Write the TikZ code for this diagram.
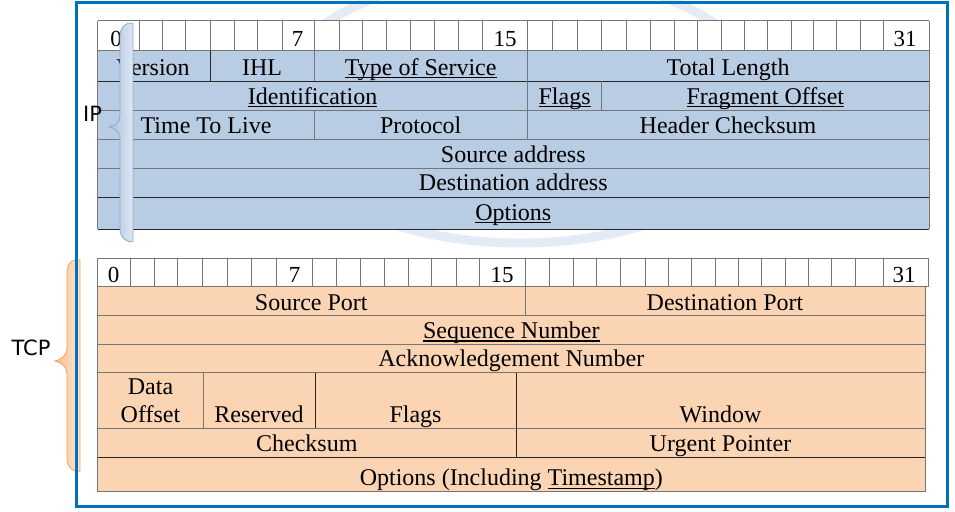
\documentclass[tikz,border=0pt]{standalone}
\usepackage{fontspec}
\setmainfont{Liberation Serif}
\newfontfamily\bracefont{DejaVu Sans}

% underline at a fixed depth below the baseline, crossing descenders
\newcommand\ulword[1]{\setbox0\hbox{#1}\rlap{\rule[-3.2pt]{\wd0}{1.1pt}}\box0}

\definecolor{ipfill}{HTML}{B8CCE4}
\definecolor{tcpfill}{HTML}{FBD4B4}
\definecolor{cellgray}{HTML}{767676}
\definecolor{frameblue}{HTML}{0070C0}
\definecolor{ringblue}{HTML}{E2EBF6}

\tikzset{
  gridline/.style={draw=cellgray, line width=1pt},
  darkline/.style={draw=black!85, line width=1pt},
  bitline/.style={draw=cellgray, line width=0.8pt},
  lbl/.style={anchor=base, inner sep=0pt, font=\fontsize{24}{28}\selectfont},
  num/.style={anchor=base, inner sep=0pt, font=\fontsize{23}{27}\selectfont},
  sidelbl/.style={anchor=center, inner sep=0pt, font=\bracefont\fontsize{21}{25}\selectfont},
  ipbrace/.style={left color=HTML_A6BEDC, right color=HTML_DFE8F4, draw=HTML_90ABD0, line width=0.8pt},
}
\definecolor{HTML_A6BEDC}{HTML}{A6BEDC}
\definecolor{HTML_DFE8F4}{HTML}{DFE8F4}
\definecolor{HTML_90ABD0}{HTML}{90ABD0}
\definecolor{tcpbraceL}{HTML}{F7BC88}
\definecolor{tcpbraceR}{HTML}{FEE6D2}
\definecolor{tcpbraceD}{HTML}{F3A563}
\tikzset{
  tcpbrace/.style={left color=tcpbraceL, right color=tcpbraceR, draw=tcpbraceD, line width=0.8pt},
}

\begin{document}
\begin{tikzpicture}[x=1pt, y=-1pt]
\useasboundingbox (0,0) rectangle (955,511);

% faint watermark ring behind the tables
\draw[ringblue, line width=9pt] (520,108) ellipse [x radius=250, y radius=135];

% ---------------- IP header ----------------
\fill[white] (97.7,20.7) rectangle (929,51);
\fill[ipfill] (97.7,51) rectangle (929,229.3);
\foreach \x in {139.3,162.7,185.3,210.3,234.3,257.3,282,314,339,362.7,386.7,410.7,434.5,458.5,482.5,527.5,552.5,577.3,601.7,626,650,674,697,721,744.3,767.7,791,813.3,836.7,860,883}
  \draw[bitline] (\x,20.7) -- (\x,51);
\foreach \y in {20.7,51,110,139,168.3}
  \draw[gridline] (97.7,\y) -- (929,\y);
\foreach \y in {81,197.3,229.3}
  \draw[darkline] (97.7,\y) -- (929,\y);
\draw[gridline] (97.7,20.7) -- (97.7,229.3);
\draw[gridline] (929,20.7) -- (929,229.3);
\draw[darkline] (210.3,51) -- (210.3,81);
\draw[gridline] (314,51) -- (314,81);
\draw[gridline] (527.5,51) -- (527.5,139);
\draw[gridline] (601.7,81) -- (601.7,110);
\draw[gridline] (314,110) -- (314,139);

\node[num] (ipb0)  at (116,46.5) {0};
\node[num] (ipb7)  at (297.5,46.5) {7};
\node[num] (ipb15) at (505,46.5) {15};
\node[num] (ipb31) at (905,46.5) {31};

\node[lbl] (ver)   at (153,75) {Version};
\node[lbl] (ihl)   at (262,75) {IHL};
\node[lbl] (tos)   at (420.7,75) {\ulword{Type of Service}};
\node[lbl] (tlen)  at (728,75) {Total Length};
\node[lbl] (ident) at (312.6,104) {\ulword{Identification}};
\node[lbl] (ipfl)  at (564.6,104) {\ulword{Flags}};
\node[lbl] (frag)  at (765.3,104) {\ulword{Fragment Offset}};
\node[lbl] (ttl)   at (206,133) {Time To Live};
\node[lbl] (proto) at (420.7,133) {Protocol};
\node[lbl] (hcs)   at (728,133) {Header Checksum};
\node[lbl] (src)   at (513.3,162.3) {Source address};
\node[lbl] (dst)   at (513.3,190.5) {Destination address};
\node[lbl] (ipopt) at (513.3,220) {\ulword{Options}};

% IP brace drawn over the table
\path[ipbrace] (133,23.5) .. controls (126,21.5) and (120,27) .. (120,36)
  -- (120,116) .. controls (120,122) and (115,126) .. (109,127)
  .. controls (115,128) and (120,132) .. (120,138)
  -- (120,229) .. controls (120,237) and (126,243) .. (133,241.5) -- cycle;
\node[sidelbl] (iplbl) at (92.5,114) {IP};

% ---------------- TCP header ----------------
\fill[white] (97.7,258.3) rectangle (928.3,286);
\fill[tcpfill] (97.7,286) rectangle (925,491.7);
\foreach \x in {130.7,154.3,177.7,202.3,227.3,251.7,276.7,312.3,336,360.3,384,408,431.7,456,479.5,525,549,573,596.7,620.5,645,668.3,691.7,715,738.3,761.7,785,808.3,831.7,855,883.3}
  \draw[bitline] (\x,258.3) -- (\x,286);
\draw[gridline] (97.7,258.3) rectangle (928.3,286);
\foreach \y in {315.3,344,372.7,428.3,491.7}
  \draw[gridline] (97.7,\y) -- (925,\y);
\draw[darkline] (97.7,457.3) -- (925,457.3);
\draw[gridline] (97.7,286) -- (97.7,491.7);
\draw[gridline] (925,286) -- (925,491.7);
\draw[gridline] (525,286) -- (525,315.3);
\draw[gridline] (203.3,372.7) -- (203.3,428.3);
\draw[darkline] (315,372.7) -- (315,428.3);
\draw[darkline] (516,372.7) -- (516,457.3);

\node[num] (tcpb0)  at (113.5,282) {0};
\node[num] (tcpb7)  at (294.5,282) {7};
\node[num] (tcpb15) at (502,282) {15};
\node[num] (tcpb31) at (904,282) {31};

\node[lbl] (sport) at (311.3,310) {Source Port};
\node[lbl] (dport) at (725,310) {Destination Port};
\node[lbl] (seq)   at (511.3,338.3) {\ulword{Sequence Number}};
\node[lbl] (ack)   at (511.3,366.7) {Acknowledgement Number};
\node[lbl] (doff1) at (150.5,394) {Data};
\node[lbl] (doff2) at (150.5,422.7) {Offset};
\node[lbl] (resv)  at (259,422.7) {Reserved};
\node[lbl] (tcpfl) at (415.5,422.7) {Flags};
\node[lbl] (win)   at (720.5,422.7) {Window};
\node[lbl] (csum)  at (306.8,451.7) {Checksum};
\node[lbl] (urg)   at (720.5,451.7) {Urgent Pointer};
\node[lbl] (tcpopt) at (511.3,485.5) {Options (Including \ulword{Timestamp})};

% TCP brace
\path[tcpbrace] (80,260) .. controls (73,258) and (67,263) .. (67,273)
  -- (67,348) .. controls (67,355) and (61,360) .. (55,361)
  .. controls (61,362) and (67,367) .. (67,374)
  -- (67,458) .. controls (67,467) and (73,473) .. (80,471) -- cycle;
\node[sidelbl] (tcplbl) at (31,347.5) {TCP};

% outer frame
\draw[frameblue, line width=3pt] (76,2.5) rectangle (947,506.5);
\end{tikzpicture}
\end{document}
